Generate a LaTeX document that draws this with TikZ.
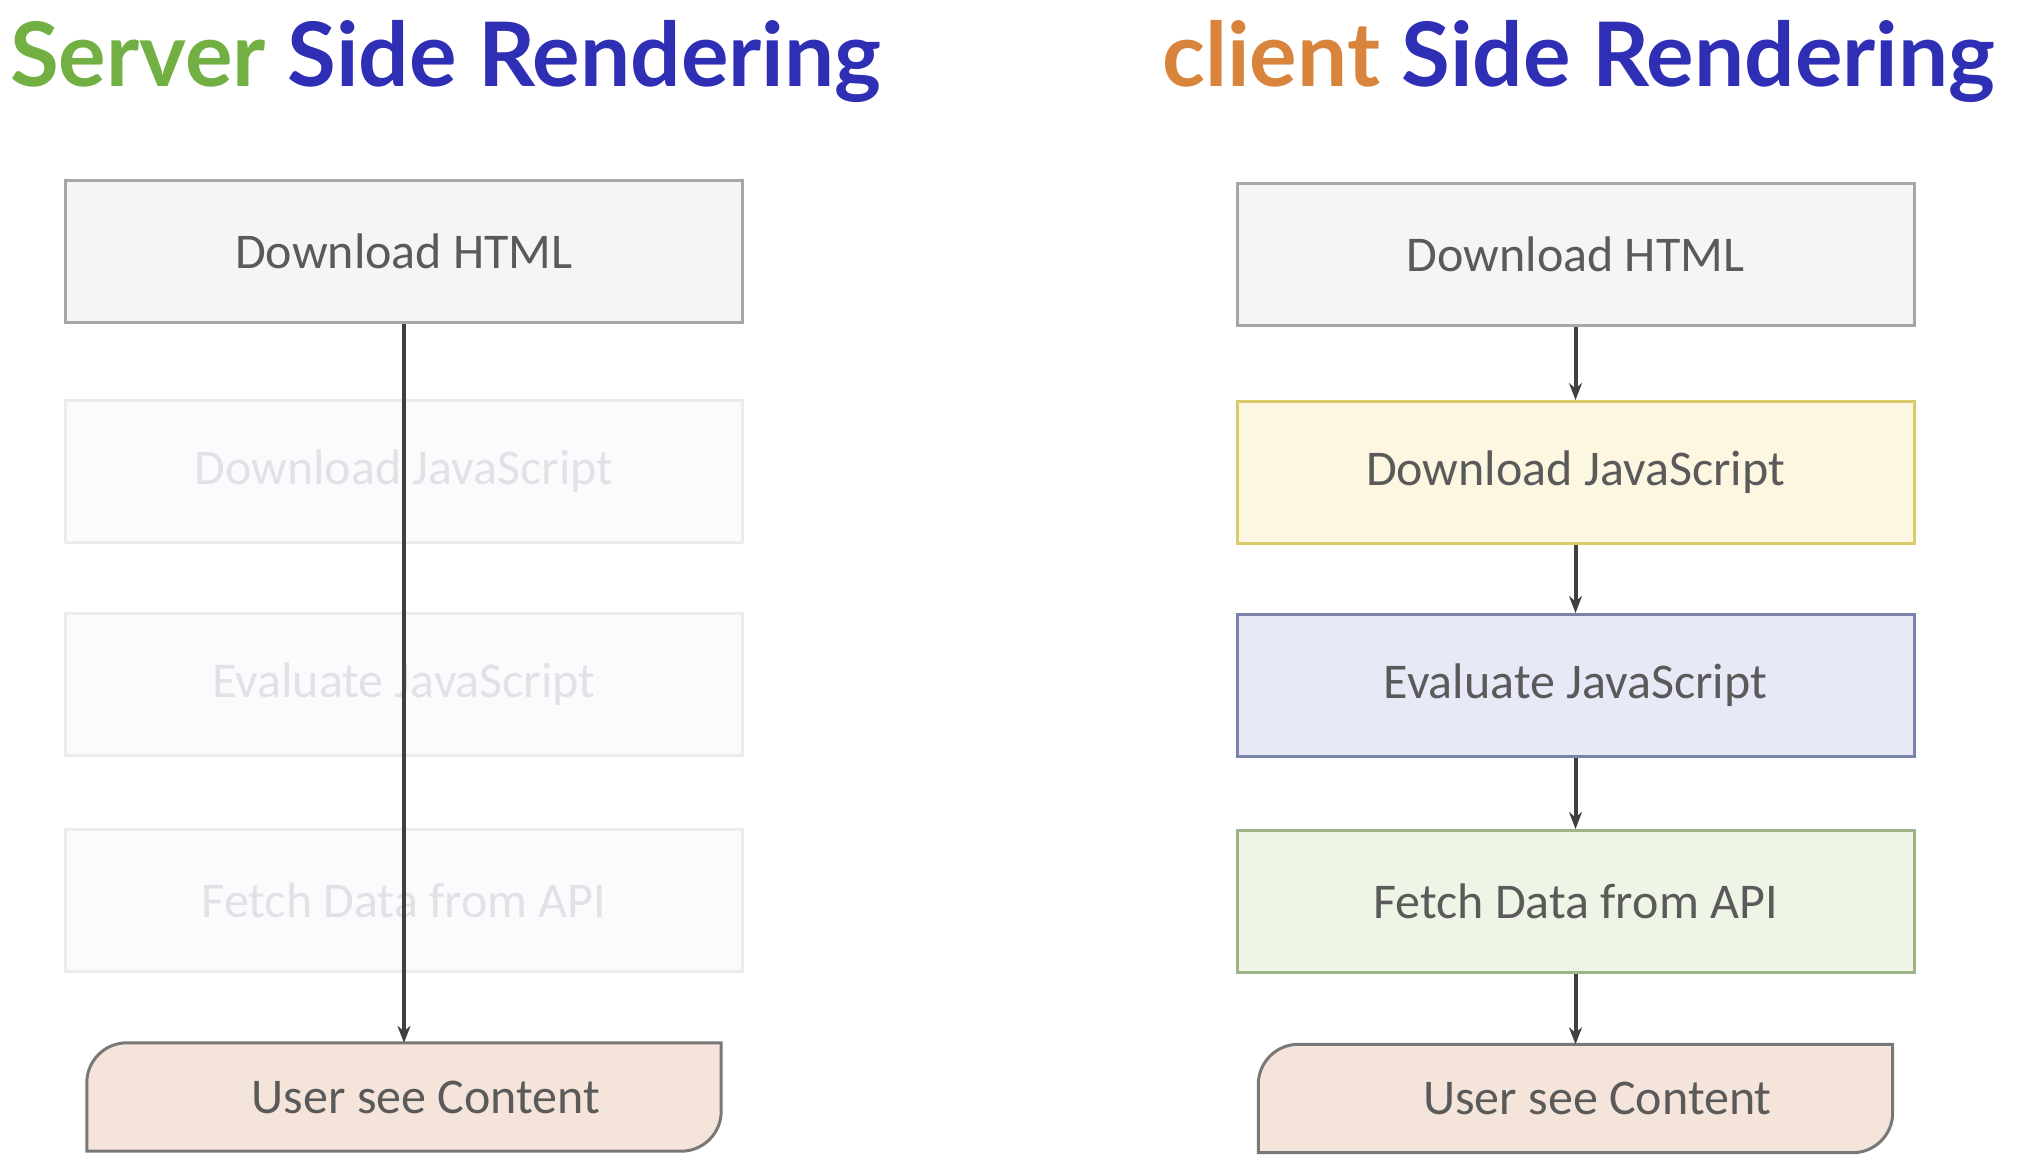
\documentclass[tikz,border=0pt]{standalone}
\usepackage{fontspec}
\setmainfont{Carlito}
\newfontfamily\titlefont{Lato}
\usetikzlibrary{arrows.meta,positioning}
\definecolor{servgreen}{RGB}{114,176,67}
\definecolor{sideblue}{RGB}{47,47,181}
\definecolor{cliorange}{RGB}{217,132,60}
\definecolor{boxtxt}{RGB}{90,90,90}
\definecolor{htmlfill}{RGB}{245,245,247}
\definecolor{htmlline}{RGB}{166,166,166}
\definecolor{jsfill}{RGB}{253,246,225}
\definecolor{jsline}{RGB}{216,203,106}
\definecolor{evalfill}{RGB}{231,234,246}
\definecolor{evalline}{RGB}{122,132,168}
\definecolor{fetchfill}{RGB}{238,244,230}
\definecolor{fetchline}{RGB}{157,180,136}
\definecolor{userfill}{RGB}{245,228,218}
\definecolor{userline}{RGB}{120,120,120}
\definecolor{fadefill}{RGB}{251,251,253}
\definecolor{fadeline}{RGB}{236,236,239}
\definecolor{fadetxt}{RGB}{226,226,230}
\definecolor{arrowgray}{RGB}{64,64,64}

\tikzset{
  stepbox/.style={draw, line width=3pt, minimum width=677pt, minimum height=142pt, inner sep=0pt,
    text=boxtxt, font=\fontsize{50}{60}\selectfont},
  fadebox/.style={stepbox, draw=fadeline, fill=fadefill, text=fadetxt},
  userbox/.style={minimum width=634pt, minimum height=108pt, inner sep=0pt},
  usertext/.style={text=boxtxt, font=\fontsize{50}{60}\selectfont},
  flow/.style={line width=4pt, arrowgray, -{Stealth[length=17pt,width=13pt]}},
  titletext/.style={anchor=base west, inner sep=0pt, font=\titlefont\bfseries\fontsize{89}{100}\selectfont},
}

\begin{document}
\begin{tikzpicture}[x=1pt,y=1pt]
		\useasboundingbox (0,0) rectangle (2024,-1172);

		% titles
		\node[titletext] (ssrtitle) at (10,-86) {\color{servgreen}Server \color{sideblue}Side Rendering};
		\node[titletext] (csrtitle) at (1162,-86) {\color{cliorange}client \color{sideblue}Side Rendering};

		% server side: only the html is needed
		\node[stepbox, draw=htmlline, fill=htmlfill] (lhtml) at (404,-251.5) {Download HTML};
		\node[fadebox] (ljs) at (404,-471.5) {Download JavaScript};
		\node[fadebox] (leval) at (404,-684) {Evaluate JavaScript};
		\node[fadebox] (lfetch) at (404,-900.5) {Fetch Data from API};
		\node[userbox] (luser) at (404,-1097) {};
		\draw[line width=3pt, draw=userline, fill=userfill]
			([xshift=40pt]luser.north west) -- (luser.north east) -- ([yshift=40pt]luser.south east)
			arc[start angle=0, end angle=-90, radius=40pt] -- (luser.south west)
			-- ([yshift=-40pt]luser.north west) arc[start angle=180, end angle=90, radius=40pt] -- cycle;
		\node[usertext] (lusertxt) at ([xshift=22pt]luser.center) {User see Content};

		% one jump straight to the content
		\draw[flow] (lhtml.south) -- (luser.north);

		% client side: the full chain
		\node[stepbox, draw=htmlline, fill=htmlfill] (rhtml) at (1575.5,-254.5) {Download HTML};
		\node[stepbox, draw=jsline, fill=jsfill] (rjs) at (1575.5,-472.5) {Download JavaScript};
		\node[stepbox, draw=evalline, fill=evalfill] (reval) at (1575.5,-685.5) {Evaluate JavaScript};
		\node[stepbox, draw=fetchline, fill=fetchfill] (rfetch) at (1575.5,-901.5) {Fetch Data from API};
		\node[userbox] (ruser) at (1575.5,-1098.5) {};
		\draw[line width=3pt, draw=userline, fill=userfill]
			([xshift=40pt]ruser.north west) -- (ruser.north east) -- ([yshift=40pt]ruser.south east)
			arc[start angle=0, end angle=-90, radius=40pt] -- (ruser.south west)
			-- ([yshift=-40pt]ruser.north west) arc[start angle=180, end angle=90, radius=40pt] -- cycle;
		\node[usertext] (rusertxt) at ([xshift=22pt]ruser.center) {User see Content};

		% arrows between the steps
		\draw[flow] (rhtml.south) -- (rjs.north);
		\draw[flow] (rjs.south) -- (reval.north);
		\draw[flow] (reval.south) -- (rfetch.north);
		\draw[flow] (rfetch.south) -- (ruser.north);

\end{tikzpicture}
\end{document}
